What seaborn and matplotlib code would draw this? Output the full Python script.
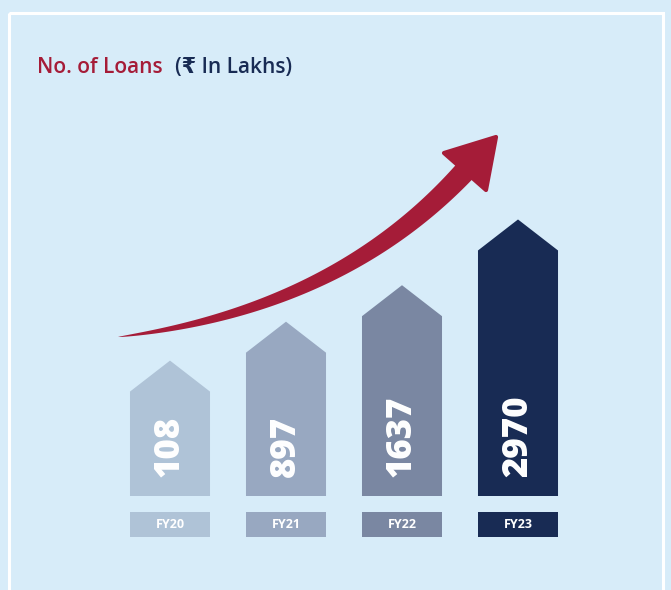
import matplotlib
matplotlib.use('Agg')
import matplotlib.pyplot as plt
import matplotlib.transforms as mtransforms
from matplotlib.patches import Polygon, Rectangle
import seaborn as sns
import numpy as np

# data
years = ['FY20', 'FY21', 'FY22', 'FY23']
loans = [108, 897, 1637, 2970]
bar_colors = ['#afc3d7', '#98a8c1', '#7a87a2', '#182b54']

bg = '#d7ecf9'
red = '#a51c38'
navy = '#182b54'

sns.set_theme(style='white')
plt.rcParams['font.family'] = ['Open Sans', 'DejaVu Sans']

fig = plt.figure(figsize=(6.71, 5.90), dpi=100, facecolor=bg)

# decoration layer in pixel coords
deco = fig.add_axes([0, 0, 1, 1])
deco.set_xlim(0, 671)
deco.set_ylim(590, 0)
deco.axis('off')
deco.patch.set_alpha(0)
deco.add_patch(Rectangle((9, 13), 654, 600, fill=False, ec='white', lw=2.2))

deco.text(37, 73, 'No. of Loans', color=red, fontsize=15, fontweight='semibold',
          ha='left', va='baseline')
deco.text(175, 73, '(₹ In Lakhs)', color=navy, fontsize=15, fontweight='semibold',
          ha='left', va='baseline')

# growth arrow (tapered curve + head)
t = np.linspace(0, 1, 200)[:, None]
P0, P1, P2 = np.array([118, 337]), np.array([338, 310]), np.array([466, 170])
pts = (1 - t) ** 2 * P0 + 2 * (1 - t) * t * P1 + t ** 2 * P2
d = 2 * (1 - t) * (P1 - P0) + 2 * t * (P2 - P1)
d = d / np.linalg.norm(d, axis=1, keepdims=True)
n = np.column_stack([-d[:, 1], d[:, 0]])
w = 11 * t ** 0.7
shaft = np.vstack([pts + n * w, (pts - n * w)[::-1]])
deco.add_patch(Polygon(shaft, closed=True, fc=red, ec='none'))
deco.add_patch(Polygon([(444, 153), (496, 137), (486, 190)], closed=True,
                       fc=red, ec=red, lw=3, joinstyle='round'))

# bars
ax = fig.add_axes([112 / 671, 94 / 590, 464 / 671, 396 / 590])
ax.axis('off')
ax.patch.set_alpha(0)
base = -2638
px = 0.04931  # pixels per unit
ax.set_xlim(-0.5, len(years) - 0.5)
ax.set_ylim(base, base + 396 / px)
upp = 1 / px
head = 31 * upp
hw = 0.345

trans = mtransforms.blended_transform_factory(ax.transData, ax.transAxes)
for i, (yr, v, c) in enumerate(zip(years, loans, bar_colors)):
    ax.fill([i - hw, i - hw, i, i + hw, i + hw], [base, v - head, v, v - head, base],
            color=c, lw=0)
    ax.text(i, base + 19 * upp, str(v), rotation=90, ha='center', va='bottom',
            color='white', fontsize=25, fontweight='heavy')
    ax.add_patch(Rectangle((i - hw, -0.104), 2 * hw, 0.063, transform=trans,
                           fc=c, ec='none', clip_on=False))
    ax.text(i, -0.0725, yr, transform=trans, ha='center', va='center',
            color='white', fontsize=9, fontweight='bold')

fig.savefig('out.png', dpi=100, facecolor=bg)
